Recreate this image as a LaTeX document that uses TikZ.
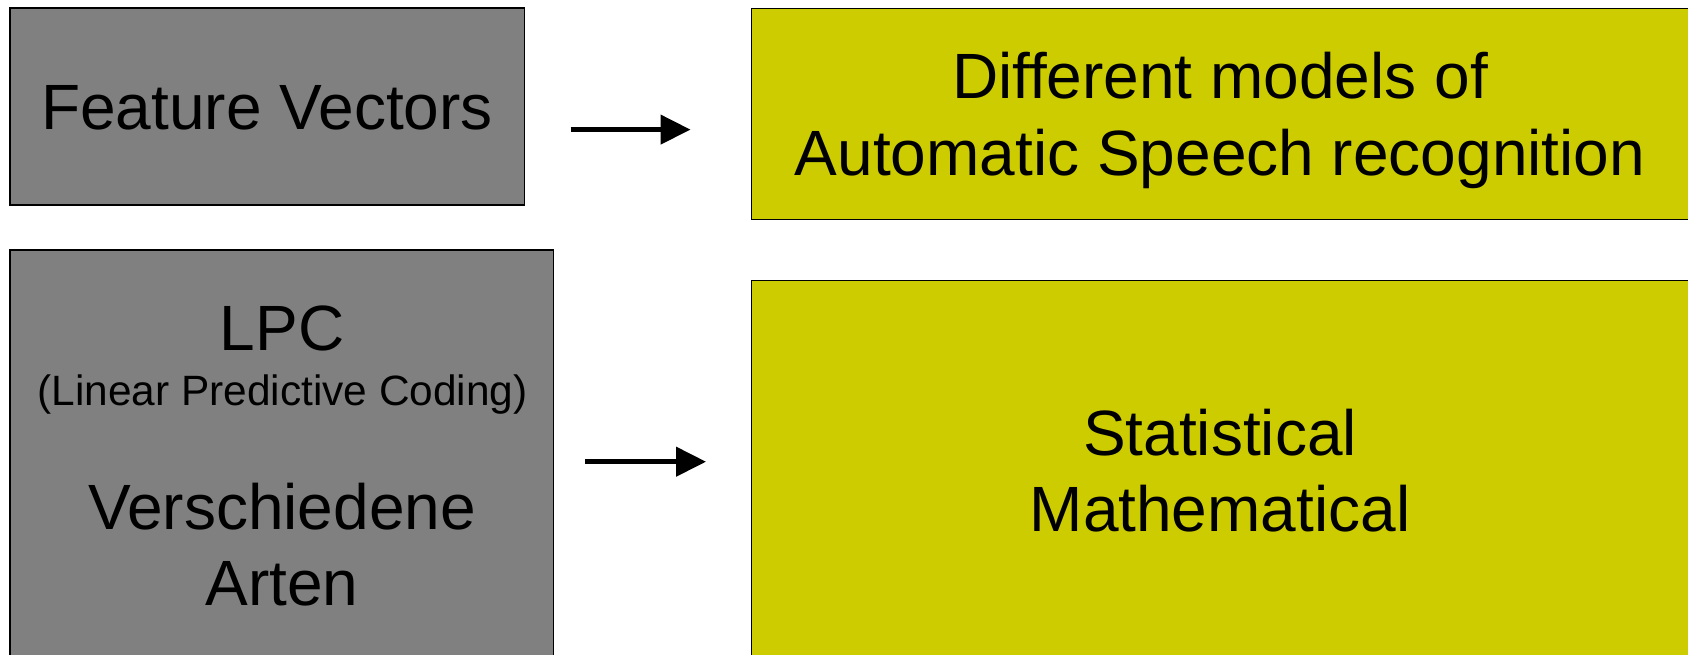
\documentclass[tikz,border=0pt]{standalone}
\usepackage{fontspec}
\setmainfont{Liberation Sans}
\usetikzlibrary{arrows.meta}
\definecolor{boxgray}{RGB}{128,128,128}
\definecolor{boxyellow}{RGB}{204,204,0}
\tikzset{
  graybox/.style={draw=black, line width=1.5pt, fill=boxgray, inner sep=0pt},
  yellowbox/.style={draw=black, line width=1.5pt, fill=boxyellow, inner sep=0pt},
  bigtext/.style={anchor=base, inner sep=0pt, font=\fontsize{64}{77}\selectfont},
  smalltext/.style={anchor=base, inner sep=0pt, font=\fontsize{42.4}{51}\selectfont},
  arr/.style={line width=4.5pt, -{Triangle[length=30pt,width=29pt]}}
}
\begin{document}
\begin{tikzpicture}[x=1pt,y=-1pt]
\useasboundingbox (0,0) rectangle (1688,655);
\clip (0,0) rectangle (1688,655);
% boxes
\node[graybox, minimum width=514.5pt, minimum height=197pt] (fv) at (267.25,106.5) {};
\node[graybox, minimum width=543.5pt, minimum height=410pt] (lpc) at (281.75,455) {};
\node[yellowbox, minimum width=940.5pt, minimum height=211pt] (asr) at (1221.75,114) {};
\node[yellowbox, minimum width=940.5pt, minimum height=379.5pt] (stat) at (1221.75,470.25) {};
% texts
\node[bigtext] (t1) at (267,130) {Feature Vectors};
\node[bigtext] (t2) at (1220,99) {Different models of};
\node[bigtext] (t3) at (1220,175.7) {Automatic Speech recognition};
\node[bigtext] (t4) at (282,350.7) {LPC};
\node[smalltext] (t5) at (282.5,405.7) {(Linear Predictive Coding)};
\node[bigtext] (t6) at (282,529.3) {Verschiedene};
\node[bigtext] (t7) at (282,605.7) {Arten};
\node[bigtext] (t8) at (1220,455) {Statistical};
\node[bigtext] (t9) at (1220,531.7) {Mathematical};
% arrows
\coordinate (a1s) at (570.5,129.6);
\coordinate (a1e) at (690.5,129.6);
\coordinate (a2s) at (585,461.7);
\coordinate (a2e) at (706,461.7);
\draw[arr] (a1s) -- (a1e);
\draw[arr] (a2s) -- (a2e);
\end{tikzpicture}
\end{document}
